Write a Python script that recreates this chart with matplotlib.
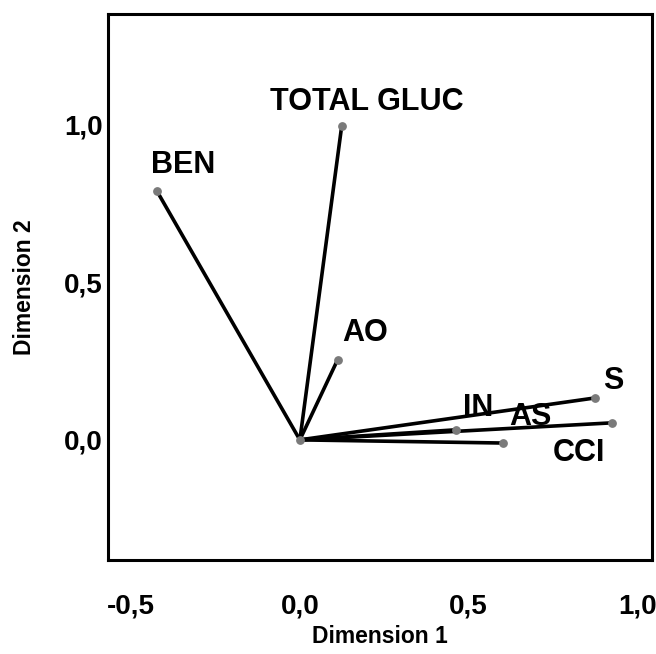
import matplotlib.pyplot as plt

plt.rcParams["font.family"] = ["Liberation Sans", "DejaVu Sans"]

# component loadings
variables = ["TOTAL GLUC", "BEN", "AO", "S", "IN", "AS", "CCI"]
dim1 = [0.124, -0.423, 0.112, 0.876, 0.464, 0.601, 0.926]
dim2 = [0.994, 0.787, 0.254, 0.133, 0.032, -0.010, 0.054]

# label offsets in points (SPSS-style placement)
label_offsets = {
    "TOTAL GLUC": (18, 17),
    "BEN": (19, 19),
    "AO": (20, 19),
    "S": (13, 12),
    "IN": (16, 16),
    "AS": (20, 19),
    "CCI": (-24, -22),
}

fig = plt.figure(figsize=(6.56, 6.54), dpi=100)
ax = fig.add_axes([0.165, 0.144, 0.829, 0.835])

for name, x, y in zip(variables, dim1, dim2):
    ax.plot([0, x], [0, y], color="black", lw=2.6, solid_capstyle="round", zorder=2)
    ax.scatter([x], [y], s=28, color="#7a7a7a", zorder=3)
    dx, dy = label_offsets[name]
    ax.annotate(name, (x, y), xytext=(dx, dy), textcoords="offset points",
                ha="center", va="center", fontsize=22, fontweight="bold")

ax.scatter([0], [0], s=28, color="#7a7a7a", zorder=3)

ax.set_xlim(-0.568, 1.044)
ax.set_ylim(-0.38, 1.35)
ax.set_xticks([-0.5, 0.0, 0.5, 1.0])
ax.set_yticks([0.0, 0.5, 1.0])
ax.set_xticklabels(["-0,5", "0,0", "0,5", "1,0"])
ax.set_yticklabels(["0,0", "0,5", "1,0"])
ax.tick_params(length=0, labelsize=20)
ax.tick_params(axis="x", pad=24)
ax.tick_params(axis="y", pad=4)
for lbl in ax.get_xticklabels() + ax.get_yticklabels():
    lbl.set_fontweight("bold")

ax.set_xlabel("Dimension 1", fontsize=16.5, fontweight="bold", labelpad=4)
ax.set_ylabel("Dimension 2", fontsize=16.5, fontweight="bold", labelpad=20)

for sp in ax.spines.values():
    sp.set_linewidth(2.2)

fig.savefig("out.png", dpi=100)
